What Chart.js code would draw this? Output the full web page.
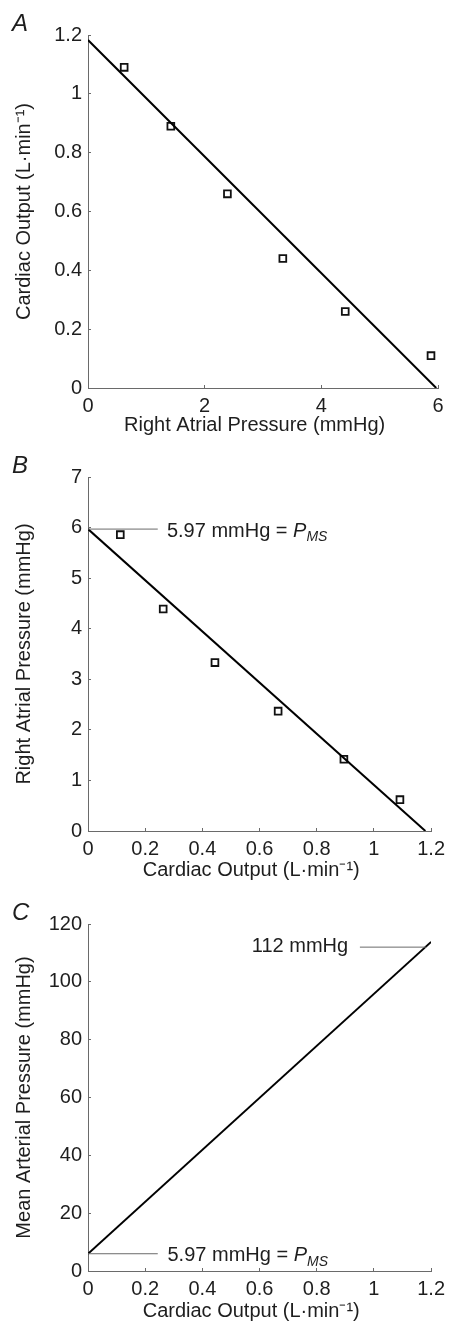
<!DOCTYPE html>
<html>
<head>
<meta charset="utf-8">
<script src="https://cdn.jsdelivr.net/npm/chart.js@4.4.1/dist/chart.umd.min.js"></script>
<style>
  html, body { margin: 0; padding: 0; background: #fff; }
  #wrap { position: relative; width: 454px; height: 1321px; }
  .panel { position: absolute; left: 0; width: 454px; }
  canvas { display: block; }
</style>
</head>
<body>
<div id="wrap">
  <div class="panel" style="top:0px"><canvas id="chartA" width="454" height="440"></canvas></div>
  <div class="panel" style="top:440px"><canvas id="chartB" width="454" height="445"></canvas></div>
  <div class="panel" style="top:885px"><canvas id="chartC" width="454" height="436"></canvas></div>
</div>
<script>
// ---- data ----
// panel A: cardiac output vs right atrial pressure
const rapA = [0.62, 1.42, 2.39, 3.34, 4.41, 5.88];
const coA = [1.09, 0.89, 0.66, 0.44, 0.26, 0.11];
const fitA_x = [0, 5.97];
const fitA_y = [1.183, 0];
const ticksA_x = [0, 2, 4, 6];
const ticksA_y = [0, 0.2, 0.4, 0.6, 0.8, 1, 1.2];

// panel B: right atrial pressure vs cardiac output
const coB = [0.113, 0.263, 0.444, 0.665, 0.895, 1.091];
const rapB = [5.86, 4.39, 3.33, 2.37, 1.42, 0.62];
const fitB_x = [0, 1.18];
const fitB_y = [5.97, 0];
const ticksB_x = [0, 0.2, 0.4, 0.6, 0.8, 1, 1.2];
const ticksB_y = [0, 1, 2, 3, 4, 5, 6, 7];

// panel C: mean arterial pressure vs cardiac output
const lineC_x = [0, 1.2];
const lineC_y = [5.97, 113.8];
const ticksC_x = [0, 0.2, 0.4, 0.6, 0.8, 1, 1.2];
const ticksC_y = [0, 20, 40, 60, 80, 100, 120];

// annotation values
const pms = 5.97;
const mapTop = 112;
const pmsLeader_x = [0, 0.244];
const mapLeader_x = [0.951, 1.183];

const family = '"Liberation Sans", Arial, Helvetica, sans-serif';
const ink = '#1e1e1e';
const axisGrey = '#6a6a6a';

function pts(xs, ys) {
  return xs.map((x, i) => ({ x: x, y: ys[i] }));
}

function squares(xs, ys) {
  return {
    data: pts(xs, ys), showLine: false,
    pointStyle: 'rect', pointRadius: 4.8, pointHoverRadius: 4.8,
    borderColor: '#111', backgroundColor: 'rgba(0,0,0,0)', borderWidth: 1.8
  };
}

function line(xs, ys, color, width) {
  return {
    data: pts(xs, ys), showLine: true, pointRadius: 0, pointHoverRadius: 0,
    borderColor: color, borderWidth: width, fill: false
  };
}

function axis(tickVals, title, isX, box) {
  return {
    type: 'linear',
    position: isX ? 'bottom' : 'left',
    min: tickVals[0],
    max: tickVals[tickVals.length - 1],
    afterBuildTicks: s => { s.ticks = tickVals.map(v => ({ value: v })); },
    afterFit: s => {
      if (isX) s.height = box.h - box.bottom;
      else s.width = box.left;
    },
    ticks: {
      autoSkip: false, maxRotation: 0, padding: 9, color: ink,
      font: { family: family, size: 20 },
      callback: v => String(v)
    },
    grid: {
      display: true, drawOnChartArea: false, drawTicks: true,
      tickLength: -3, color: axisGrey, lineWidth: 1
    },
    border: { display: true, color: axisGrey, width: 1 },
    title: {
      display: true, text: title, color: ink,
      font: { family: family, size: 20, lineHeight: 1 },
      padding: isX ? { top: 0, bottom: box.titlePad } : { top: 14, bottom: 0 }
    }
  };
}

// letter + text notes drawn on top
function panelText(letter, notes) {
  return {
    id: 'panelText',
    afterDatasetsDraw(chart) {
      const ctx = chart.ctx;
      const xs = chart.scales.x, ys = chart.scales.y;
      ctx.save();
      ctx.fillStyle = ink;
      ctx.font = 'italic 24px ' + family;
      ctx.textAlign = 'left';
      ctx.textBaseline = 'alphabetic';
      ctx.fillText(letter, 12, chart.chartArea.top - 4);

      notes.forEach(n => {
        let x = xs.getPixelForValue(n.x);
        const y = ys.getPixelForValue(n.y) + n.dy;
        ctx.textBaseline = 'middle';
        ctx.font = '20px ' + family;
        if (n.align === 'right') {
          ctx.textAlign = 'right';
          ctx.fillText(n.text, x, y);
          return;
        }
        ctx.textAlign = 'left';
        ctx.fillText(n.text, x, y);
        x += ctx.measureText(n.text).width;
        if (n.pms) {
          ctx.font = 'italic 20px ' + family;
          ctx.fillText('P', x, y);
          x += ctx.measureText('P').width;
          ctx.font = 'italic 14px ' + family;
          ctx.fillText('MS', x, y + 6);
        }
      });
      ctx.restore();
    }
  };
}

function makeChart(id, datasets, xTicks, yTicks, xTitle, yTitle, box, notes, letter) {
  return new Chart(document.getElementById(id), {
    type: 'scatter',
    data: { datasets: datasets },
    options: {
      responsive: false,
      animation: false,
      events: [],
      layout: { padding: { top: box.top, right: 454 - box.right, bottom: 0, left: 0 } },
      plugins: { legend: { display: false }, tooltip: { enabled: false } },
      scales: {
        x: axis(xTicks, xTitle, true, box),
        y: axis(yTicks, yTitle, false, box)
      }
    },
    plugins: [panelText(letter, notes)]
  });
}

const coTitle = 'Cardiac Output (L\u00b7min\u207b\u00b9)';

makeChart('chartA',
  [line(fitA_x, fitA_y, '#000', 2), squares(rapA, coA)],
  ticksA_x, ticksA_y,
  'Right Atrial Pressure (mmHg)\u00a0\u00a0\u00a0', coTitle,
  { h: 440, top: 35, bottom: 388, left: 88, right: 438, titlePad: 5 },
  [], 'A');

makeChart('chartB',
  [line(pmsLeader_x, [pms, pms], axisGrey, 1), line(fitB_x, fitB_y, '#000', 2), squares(coB, rapB)],
  ticksB_x, ticksB_y,
  coTitle + '\u00a0\u00a0\u00a0', 'Right Atrial Pressure (mmHg)',
  { h: 445, top: 37, bottom: 391, left: 88, right: 438, titlePad: 5 },
  [{ x: 0.276, y: pms, dy: 2, text: '5.97 mmHg = ', pms: true }], 'B');

makeChart('chartC',
  [line(pmsLeader_x, [pms, pms], axisGrey, 1), line(mapLeader_x, [mapTop, mapTop], axisGrey, 1),
   line(lineC_x, lineC_y, '#000', 2)],
  ticksC_x, ticksC_y,
  coTitle + '\u00a0\u00a0\u00a0', 'Mean Arterial Pressure (mmHg)',
  { h: 436, top: 39, bottom: 386, left: 88, right: 435, titlePad: 0 },
  [{ x: 0.278, y: pms, dy: 2, text: '5.97 mmHg = ', pms: true },
   { x: 0.91, y: mapTop, dy: -1, text: '112 mmHg', align: 'right' }], 'C');
</script>
</body>
</html>
